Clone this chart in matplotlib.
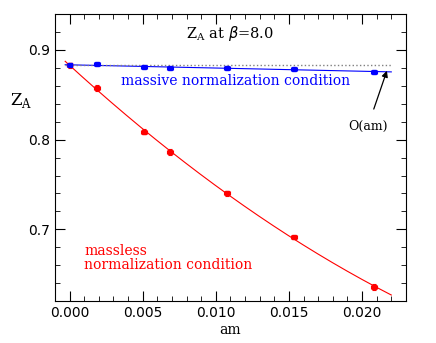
import numpy as np
import matplotlib
matplotlib.use("Agg")
import matplotlib.pyplot as plt
from matplotlib.ticker import MultipleLocator

# ─── Daten ───────────────────────────────────────────────
am = [0.0, 0.00185, 0.00508, 0.00688, 0.01078, 0.01534, 0.02083]
am_err = [0.00015, 0.0002, 0.0002, 0.0002, 0.0002, 0.0002, 0.0002]

za_massive = [0.883, 0.884, 0.881, 0.880, 0.880, 0.8786, 0.8756]
za_massive_err = [0.0012, 0.0012, 0.0012, 0.0012, 0.0012, 0.0012, 0.0012]

za_massless = [0.883, 0.8574, 0.8089, 0.7863, 0.740, 0.6911, 0.6359]
za_massless_err = [0.003, 0.003, 0.003, 0.003, 0.003, 0.002, 0.003]

fit_bereich = (-0.0003, 0.022)

# ─── Plot ────────────────────────────────────────────────
fig = plt.figure(figsize=(4.36, 3.43), dpi=100)
ax = fig.add_axes([0.126, 0.122, 0.805, 0.837])

xs = np.linspace(*fit_bereich, 200)

# Fits
p_rot = np.polyfit(am, za_massless, 2)
ax.plot(xs, np.polyval(p_rot, xs), "-", color="red", lw=0.8)
p_blau = np.polyfit(am, za_massive, 1)
ax.plot(xs, np.polyval(p_blau, xs), "-", color="blue", lw=0.8)
ax.plot(fit_bereich, [za_massive[0]] * 2, ":", color="gray", lw=1.0)

# Datenpunkte
ax.errorbar(am, za_massless, yerr=za_massless_err, xerr=am_err, fmt="s",
            color="red", ms=2.5, capsize=1.5, elinewidth=0.8, capthick=0.8)
ax.errorbar(am, za_massive, yerr=za_massive_err, xerr=am_err, fmt="s",
            color="blue", ms=2.5, capsize=1.5, elinewidth=0.8, capthick=0.8)

# Texte
serif = "DejaVu Serif"
ax.text(0.011, 0.918, r"Z$_\mathregular{A}$ at $\beta$=8.0", ha="center",
        va="center", fontsize=10.5, family=serif)
ax.text(0.0035, 0.865, "massive normalization condition", color="blue",
        fontsize=10, family=serif, va="center")
ax.text(0.001, 0.668, "massless\nnormalization condition", color="red",
        fontsize=10, family=serif, va="center", linespacing=1.0)
ax.annotate("O(am)", xy=(0.0217, 0.8768), xytext=(0.0204, 0.815),
            ha="center", va="center", fontsize=9, family=serif,
            arrowprops=dict(arrowstyle="-|>", color="black", lw=0.9,
                            shrinkA=6, shrinkB=0, mutation_scale=9))

ax.set_xlim(-0.001, 0.023)
ax.set_ylim(0.62, 0.94)
ax.xaxis.set_major_locator(MultipleLocator(0.005))
ax.xaxis.set_minor_locator(MultipleLocator(0.001))
ax.yaxis.set_major_locator(MultipleLocator(0.1))
ax.yaxis.set_minor_locator(MultipleLocator(0.02))
ax.xaxis.set_major_formatter(plt.FuncFormatter(lambda v, p: f"{v:.3f}"))
ax.yaxis.set_major_formatter(plt.FuncFormatter(lambda v, p: f"{v:.1f}"))
ax.tick_params(which="both", direction="in", top=True, right=True,
               labelsize=10)
ax.tick_params(which="major", length=7)
ax.tick_params(which="minor", length=3.5)

ax.set_xlabel("am", fontsize=10, family=serif, labelpad=2)
ax.set_ylabel(r"Z$_\mathregular{A}$", fontsize=12, family=serif,
              rotation=0, va="center", ha="center")
ax.yaxis.set_label_coords(-0.095, 0.70)

fig.savefig("out.png", dpi=100)
